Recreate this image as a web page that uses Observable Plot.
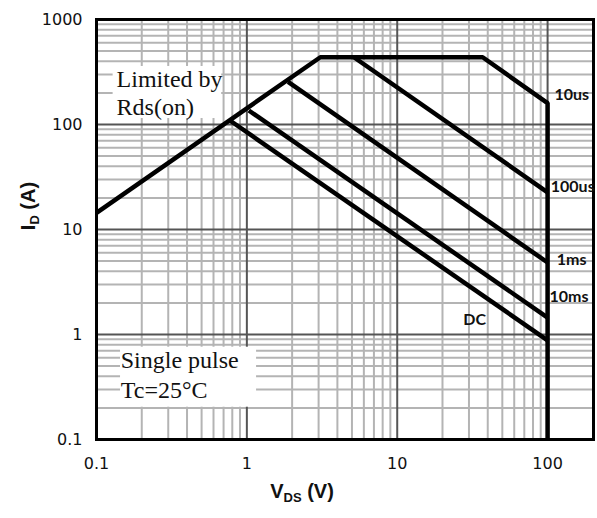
<!DOCTYPE html>
<html>
<head>
<meta charset="utf-8">
<script src="https://cdn.jsdelivr.net/npm/d3@7"></script>
<script src="https://cdn.jsdelivr.net/npm/@observablehq/plot@0.6"></script>
<style>
  html, body { margin: 0; padding: 0; background: white; }
  #chart { width: 597px; height: 518px; }
</style>
</head>
<body>
<div id="chart"></div>
<script>
// Tick labels / grid values
const xTickLabels = [0.1, 1, 10, 100];
const yTickLabels = [0.1, 1, 10, 100, 1000];
const xMajorGrid = [1, 10, 100];
const yMajorGrid = [1, 10, 100];
const xMinorGrid = [0.2,0.3,0.4,0.5,0.6,0.7,0.8,0.9, 2,3,4,5,6,7,8,9, 20,30,40,50,60,70,80,90];
const yMinorGrid = [0.2,0.3,0.4,0.5,0.6,0.7,0.8,0.9, 2,3,4,5,6,7,8,9, 20,30,40,50,60,70,80,90, 200,300,400,500,600,700,800,900];

// Series (VDS in V, ID in A)
const seriesNames = ["10us", "100us", "1ms", "10ms", "DC"];
const vds10us = [0.1, 3.08, 37, 100, 100];
const id10us  = [14.4, 437, 437, 160, 0.1];
const vds100us = [5.15, 100];
const id100us  = [437, 22.6];
const vds1ms = [1.88, 100];
const id1ms  = [255, 4.85];
const vds10ms = [1.03, 100];
const id10ms  = [136, 1.45];
const vdsDC = [0.78, 100];
const idDC  = [108, 0.88];

// Curve label anchors (data units)
const labelText = ["10us", "100us", "1ms", "10ms", "DC"];
const labelV = [111, 105, 115, 103, 32.7];
const labelI = [193, 25.3, 5.18, 2.26, 1.38];
const labelAnchor = ["start", "start", "start", "start", "middle"];

// Annotation texts and their backing boxes (data units)
const noteLines = ["Limited by", "Rds(on)", "Single pulse", "Tc=25°C"];
const noteV = [0.136, 0.136, 0.145, 0.145];
const noteI = [268, 145, 0.565, 0.293];
const boxV1 = [0.129, 0.1445];
const boxV2 = [0.68, 1.16];
const boxI1 = [114, 0.203];
const boxI2 = [357, 0.757];

const vList = [vds10us, vds100us, vds1ms, vds10ms, vdsDC];
const iList = [id10us, id100us, id1ms, id10ms, idDC];
const curves = seriesNames.flatMap((name, k) =>
  vList[k].map((v, j) => ({series: name, V: v, I: iList[k][j]})));
const labels = labelText.map((t, k) => ({t, V: labelV[k], I: labelI[k], a: labelAnchor[k]}));
const notes = noteLines.map((t, k) => ({t, V: noteV[k], I: noteI[k]}));
const boxes = boxV1.map((v, k) => ({x1: v, x2: boxV2[k], y1: boxI1[k], y2: boxI2[k]}));

const plot = Plot.plot({
  width: 597,
  height: 518,
  marginLeft: 96,
  marginRight: 4,
  marginTop: 19,
  marginBottom: 79,
  style: {fontFamily: "DejaVu Sans", fontSize: "16px", color: "#111", background: "white"},
  x: {type: "log", domain: [0.1, 202], ticks: xTickLabels, tickFormat: d => String(d), tickSize: 0, tickPadding: 18, label: null},
  y: {type: "log", domain: [0.1, 1000], ticks: yTickLabels, tickFormat: d => String(d), tickSize: 0, tickPadding: 14, label: null},
  marks: [
    Plot.ruleX(xMinorGrid, {stroke: "#b4b4b4", strokeWidth: 2}),
    Plot.ruleY(yMinorGrid, {stroke: "#b4b4b4", strokeWidth: 2}),
    Plot.ruleX(xMajorGrid, {stroke: "#555", strokeWidth: 2}),
    Plot.ruleY(yMajorGrid, {stroke: "#555", strokeWidth: 2}),
    Plot.rect(boxes, {x1: "x1", x2: "x2", y1: "y1", y2: "y2", fill: "white"}),
    Plot.line(curves, {x: "V", y: "I", z: "series", stroke: "black", strokeWidth: 4.5, strokeLinejoin: "miter", strokeLinecap: "butt"}),
    Plot.frame({stroke: "black", strokeWidth: 3}),
    Plot.text(labels.filter(d => d.a === "start"), {x: "V", y: "I", text: "t", textAnchor: "start", fontFamily: "Lato", fontWeight: "bold", fontSize: 16, fill: "#111"}),
    Plot.text(labels.filter(d => d.a === "middle"), {x: "V", y: "I", text: "t", textAnchor: "middle", fontFamily: "Lato", fontWeight: "bold", fontSize: 16, fill: "#111"}),
    Plot.text(notes, {x: "V", y: "I", text: "t", textAnchor: "start", fontFamily: "Liberation Serif", fontSize: 24, fill: "#111"})
  ]
});

const svg = d3.select(plot);
// x axis label
const xl = svg.append("text")
  .attr("x", 302).attr("y", 498)
  .attr("text-anchor", "middle")
  .attr("font-family", "Liberation Sans").attr("font-weight", "bold")
  .attr("font-size", 20).attr("fill", "#111");
xl.append("tspan").text("V");
xl.append("tspan").attr("font-size", 13).attr("dy", 4).text("DS");
xl.append("tspan").attr("dy", -4).text(" (V)");
// y axis label
const yl = svg.append("text")
  .attr("transform", "translate(35,206) rotate(-90)")
  .attr("text-anchor", "middle")
  .attr("font-family", "Liberation Sans").attr("font-weight", "bold")
  .attr("font-size", 20).attr("fill", "#111");
yl.append("tspan").text("I");
yl.append("tspan").attr("font-size", 13).attr("dy", 4).text("D");
yl.append("tspan").attr("dy", -4).text(" (A)");

document.getElementById("chart").appendChild(plot);
</script>
</body>
</html>
